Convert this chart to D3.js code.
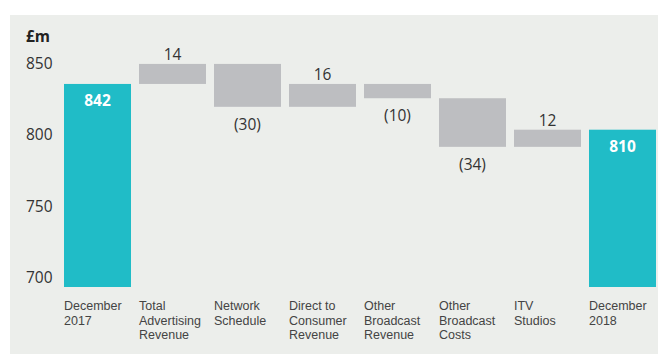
<!DOCTYPE html>
<html>
<head>
<meta charset="utf-8">
<script src="https://cdn.jsdelivr.net/npm/d3@7"></script>
<style>
  body { margin: 0; background: #fff; }
  svg { display: block; font-family: "Open Sans", sans-serif; }
</style>
</head>
<body>
<div id="chart"></div>
<script>
const categories = [
  "December\n2017",
  "Total\nAdvertising\nRevenue",
  "Network\nSchedule",
  "Direct to\nConsumer\nRevenue",
  "Other\nBroadcast\nRevenue",
  "Other\nBroadcast\nCosts",
  "ITV\nStudios",
  "December\n2018"
];
const values = [842, 14, -30, 16, -10, -34, 12, 810];
const isTotal = [true, false, false, false, false, false, false, true];
const yTicks = [700, 750, 800, 850];

const width = 659, height = 354;

// running totals for the waterfall
let running = 0;
const bars = values.map((v, i) => {
  let lo, hi;
  if (isTotal[i]) { lo = 700; hi = v; running = v; }
  else { lo = Math.min(running, running + v); hi = Math.max(running, running + v); running += v; }
  return { name: categories[i], value: v, total: isTotal[i], lo, hi };
});

const svg = d3.create("svg").attr("width", width).attr("height", height);

svg.append("rect")
  .attr("x", 10).attr("y", 15)
  .attr("width", 648).attr("height", height - 15)
  .attr("fill", "#eceeeb");

const x = d3.scaleBand().domain(categories).range([64, 656]).paddingInner(0.1067).paddingOuter(0);
const y = d3.scaleLinear().domain([700, 850]).range([287, 72.5]);

// y axis labels (sit just above their values)
svg.append("g")
  .attr("font-size", 15.5)
  .attr("fill", "#333")
  .selectAll("text")
  .data(yTicks)
  .join("text")
  .attr("x", 26)
  .attr("y", d => y(d) - 4)
  .text(d => d);

svg.append("text")
  .attr("x", 26).attr("y", 42)
  .attr("font-size", 15.5)
  .attr("font-weight", "bold")
  .attr("fill", "#222")
  .text("£m");

// bars
svg.append("g")
  .selectAll("rect")
  .data(bars)
  .join("rect")
  .attr("x", d => x(d.name))
  .attr("width", x.bandwidth())
  .attr("y", d => y(d.hi))
  .attr("height", d => y(d.lo) - y(d.hi))
  .attr("fill", d => d.total ? "#20bcc7" : "#bdbec1");

// value labels
svg.append("g")
  .attr("font-size", 15.5)
  .attr("text-anchor", "middle")
  .selectAll("text")
  .data(bars)
  .join("text")
  .attr("x", d => x(d.name) + x.bandwidth() / 2)
  .attr("y", d => d.total ? y(d.hi) + 22 : (d.value >= 0 ? y(d.hi) - 4 : y(d.lo) + 23))
  .attr("fill", d => d.total ? "#fff" : "#333")
  .attr("font-weight", d => d.total ? "bold" : "normal")
  .text(d => d.total || d.value >= 0 ? d.value : `(${-d.value})`);

// category labels, one text per line (tighter font so the lines don't collide)
const lines = bars.flatMap(d => d.name.split("\n").map((s, i) => ({ s, i, x: x(d.name) })));
svg.append("g")
  .attr("font-family", "'Liberation Sans', Arial, sans-serif")
  .attr("font-size", 12.5)
  .attr("fill", "#444")
  .selectAll("text")
  .data(lines)
  .join("text")
  .attr("x", t => t.x)
  .attr("y", t => 310 + t.i * 14.5)
  .text(t => t.s);

d3.select("#chart").node().appendChild(svg.node());
</script>
</body>
</html>
